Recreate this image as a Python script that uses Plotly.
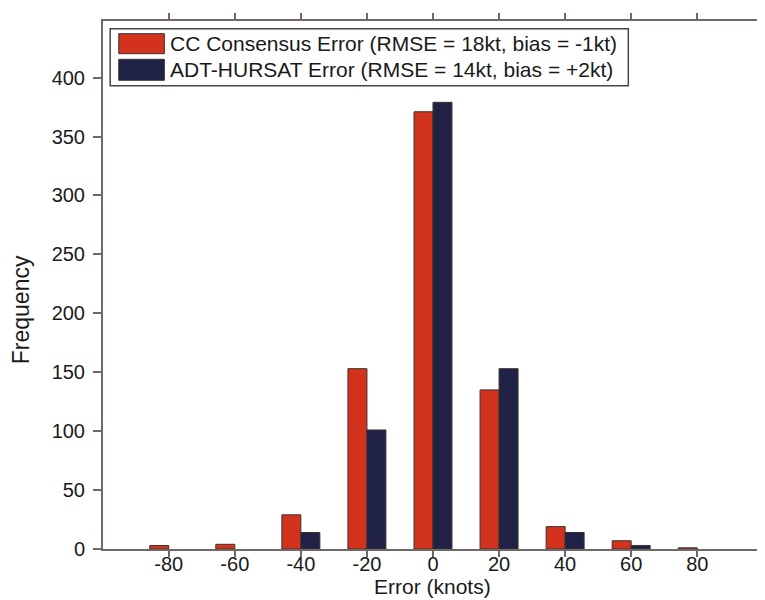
import plotly.graph_objects as go

# ---- data ----
error_bins = [-80, -60, -40, -20, 0, 20, 40, 60, 80]
cc_counts = [3, 4, 29, 153, 371, 135, 19, 7, 1]
adt_counts = [0, 0, 14, 101, 379, 153, 14, 3, 0]
series_names = ["CC Consensus Error (RMSE = 18kt, bias = -1kt)",
                "ADT-HURSAT Error (RMSE = 14kt, bias = +2kt)"]
series_colors = ["#d3321d", "#1f2245"]
y_ticks = [0, 50, 100, 150, 200, 250, 300, 350, 400]
x_ticks = [-80, -60, -40, -20, 0, 20, 40, 60, 80]

W, H = 765, 600
L, R, T, B = 95, 2, 13, 59
PW, PH = W - L - R, H - T - B

def px(x):
    return (x - L) / PW

def py(y):
    return (H - B - y) / PH

FONT = "Liberation Sans, Arial, Helvetica, sans-serif"
AXC = "#716866"
OUT = "#3a3232"

fig = go.Figure()
for name, vals, col in zip(series_names, [cc_counts, adt_counts], series_colors):
    fig.add_trace(go.Bar(x=error_bins, y=vals, name=name,
                         marker=dict(color=col,
                                     line=dict(color=OUT, width=[1 if v > 0 else 0 for v in vals])),
                         showlegend=False))

fig.update_layout(
    width=W, height=H,
    margin=dict(l=L, r=R, t=T, b=B),
    paper_bgcolor="white", plot_bgcolor="white",
    barmode="group", bargap=0.425, bargroupgap=0,
    font=dict(family=FONT, size=20, color="#1a1a1a"),
    xaxis=dict(range=[-99.9, 99.3], tickvals=x_ticks, ticktext=[str(v) for v in x_ticks],
               ticks="outside", ticklen=6, tickwidth=1.5, tickcolor=AXC,
               showline=True, linecolor=AXC, linewidth=2, mirror="ticks",
               showgrid=False, zeroline=False, ticklabelstandoff=-10),
    yaxis=dict(range=[0, 448], tickvals=y_ticks, ticktext=[str(v) for v in y_ticks],
               ticks="outside", ticklen=8, tickwidth=1.5, tickcolor=AXC,
               showline=True, linecolor=AXC, linewidth=2, mirror="ticks",
               showgrid=False, zeroline=False, ticklabelstandoff=4),
)

# axis titles
fig.add_annotation(text="Frequency", xref="paper", yref="paper",
                   x=px(12), y=py(302), textangle=-90, showarrow=False,
                   xanchor="center", yanchor="middle", font=dict(size=23))
fig.add_annotation(text="Error (knots)", xref="paper", yref="paper",
                   x=px(429), y=py(578), showarrow=False,
                   xanchor="center", yanchor="middle", font=dict(size=21))

# legend box (drawn)
fig.add_shape(type="rect", xref="paper", yref="paper",
              x0=px(102.3), x1=px(628.3), y0=py(77.7), y1=py(20.7),
              line=dict(color="#4a4444", width=1.5), fillcolor="white", layer="above")
row_tops = [25.7, 51.3]
row_bots = [45.7, 72.3]
for name, col, t, b in zip(series_names, series_colors, row_tops, row_bots):
    fig.add_shape(type="rect", xref="paper", yref="paper",
                  x0=px(111), x1=px(157.3), y0=py(b), y1=py(t),
                  line=dict(color=OUT, width=1), fillcolor=col, layer="above")
    fig.add_annotation(text=name, xref="paper", yref="paper",
                       x=px(161), y=py((t + b) / 2), showarrow=False,
                       xanchor="left", yanchor="middle", font=dict(size=21))

fig.write_html("out.html")
